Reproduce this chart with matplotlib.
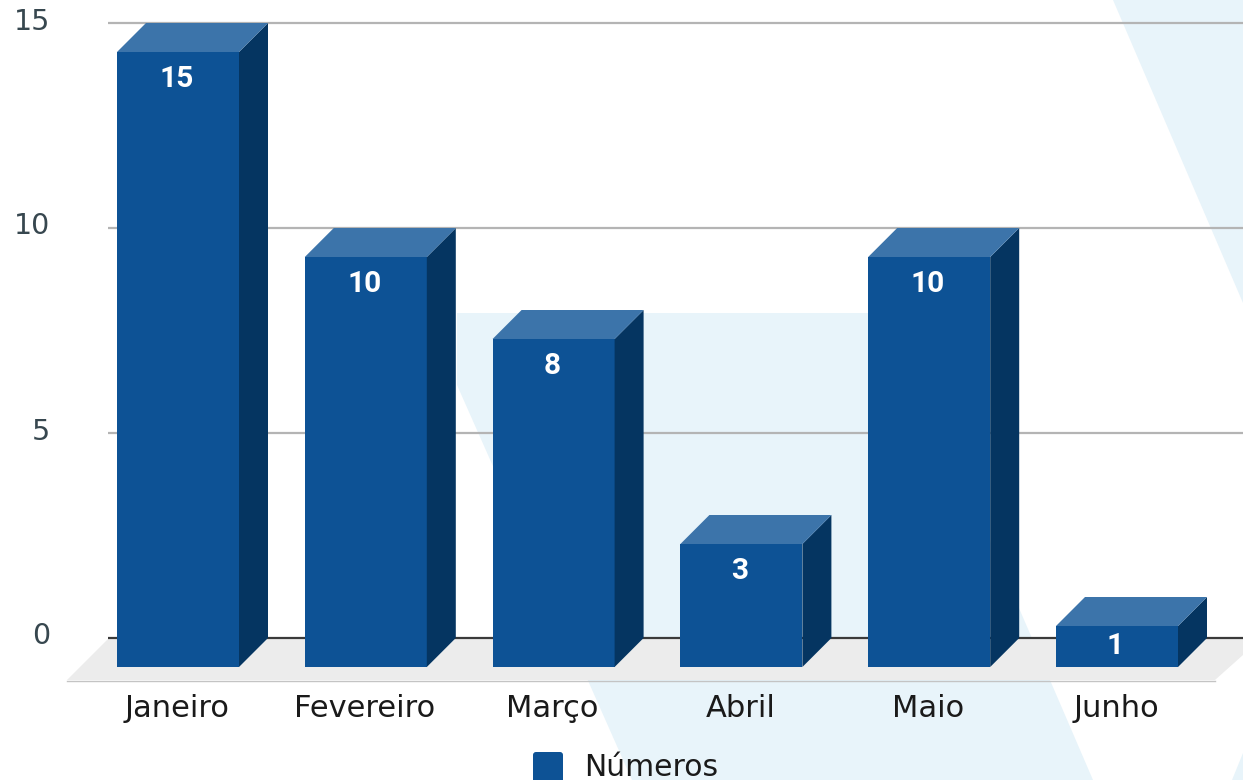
import matplotlib
matplotlib.use("Agg")
import matplotlib.pyplot as plt
from matplotlib.patches import Polygon, FancyBboxPatch
from matplotlib.transforms import Affine2D

categories = ["Janeiro", "Fevereiro", "Março", "Abril", "Maio", "Junho"]
valores = [15, 10, 8, 3, 10, 1]
yticks = [0, 5, 10, 15]
serie = "Números"

W, H = 1243, 780
fig = plt.figure(figsize=(W / 100, H / 100), dpi=100, facecolor="white")
ax = fig.add_axes([0, 0, 1, 1])

# Scale: category i at px 178 + 187.8 i, value v at py 638 - 41 v
X0, XS, Y0, YS = 178.0, 187.8, 638.0, 41.0
ax.set_xlim(-X0 / XS, (W - X0) / XS)
ax.set_ylim((Y0 - H) / YS, Y0 / YS)
ax.axis("off")
px = Affine2D().scale(1, -1).translate(0, H)

BG = "#e8f4fa"
for pts in ([(1113, 0), (1243, 0), (1243, 303)],
            [(457, 313), (892, 313), (1093, 780), (632, 780), (457, 385)],
            [(1243, 753), (1232, 780), (1243, 780)]):
    ax.add_patch(Polygon(pts, closed=True, fc=BG, ec="none", transform=px, zorder=0))

dx, dy = 29 / XS, 29 / YS
hw = 61 / XS

# Floor
ax.add_patch(Polygon([(108, 639), (1243, 639), (1243, 655), (1215, 680), (67, 680)], closed=True,
                     fc="#ececec", ec="none", transform=px, zorder=1))
ax.plot([67, 1215], [680.5, 680.5], color="#c4c4c4", lw=1.0, transform=px, zorder=1)

# Gridlines
for t in yticks:
    ax.plot([(108 - X0) / XS, (W - X0) / XS], [t, t], color="#3a3a3a" if t == 0 else "#b4b4b4",
            lw=1.6, zorder=2, solid_capstyle="butt")
    ax.text((50 - X0) / XS, t + 1.5 / YS, str(t), ha="right", va="center", fontsize=20.5,
            color="#37474f", family="DejaVu Sans", zorder=6)

# Bars
for i, v in enumerate(valores):
    l, r = i - hw, i + hw
    b, t = -dy, v - dy
    ax.bar(i, v, width=2 * hw, bottom=b, color="#0d5295", zorder=4)
    ax.add_patch(Polygon([(r, b), (r + dx, b + dy), (r + dx, t + dy), (r, t)], closed=True,
                         fc="#053561", ec="none", zorder=4))
    ax.add_patch(Polygon([(l, t), (l + dx, t + dy), (r + dx, t + dy), (r, t)], closed=True,
                         fc="#3c74aa", ec="none", zorder=4))
    ax.text(i - 1.5 / XS, max(t - 27 / YS, (t + b) / 2), str(v), ha="center", va="center", fontsize=21.5,
            fontweight="bold", color="white", family="Roboto", zorder=5)
    ax.text(i - 1 / XS, -70.5 / YS, categories[i], ha="center", va="center", fontsize=22,
            color="#1a1a1a", family="DejaVu Sans", zorder=5)

# Legend
ax.add_patch(FancyBboxPatch((536, 755), 24, 30, boxstyle="round,pad=3,rounding_size=3", fc="#0d5295", ec="none",
                            transform=px, zorder=5))
ax.text(584, 775.5, serie, ha="left", va="baseline", fontsize=21.5, color="#1a1a1a", family="DejaVu Sans",
        transform=px, zorder=5)

fig.savefig("out.png", dpi=100, facecolor="white")
